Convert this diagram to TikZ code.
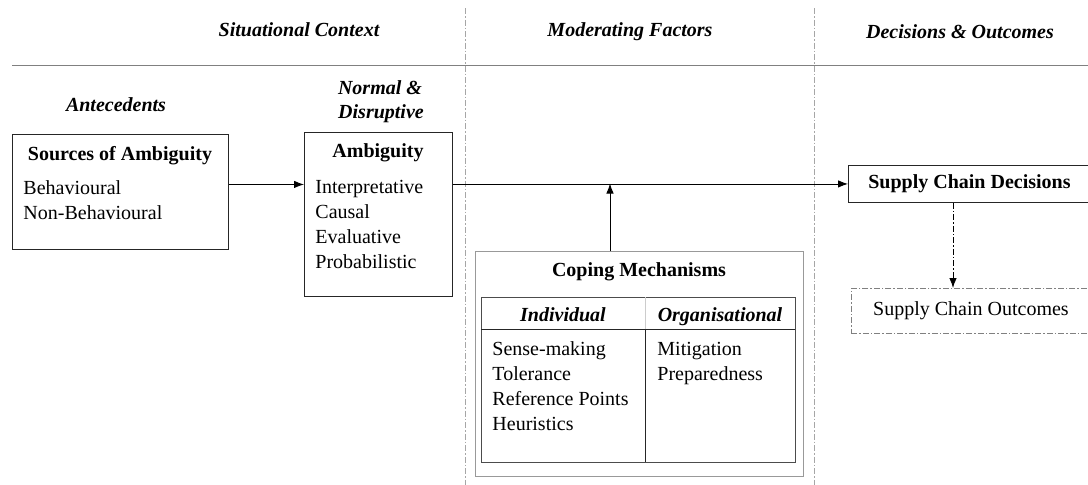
\documentclass[tikz,border=0pt]{standalone}
\usepackage{fontspec}
\setmainfont{Liberation Serif}
\usetikzlibrary{arrows.meta}

\begin{document}
\begin{tikzpicture}[x=1pt, y=-1pt, line width=0.9pt,
  every node/.style={font=\fontsize{20}{24}\selectfont, inner sep=0pt},
  box/.style={draw=black!85, rectangle, anchor=north west},
  head/.style={font=\fontsize{20}{24}\selectfont\bfseries\itshape, anchor=base},
  title/.style={font=\fontsize{20}{24}\selectfont\bfseries, anchor=base},
  item/.style={anchor=base west},
  arr/.style={-{Latex[length=10pt,width=7.5pt]}},
  dashdot/.style={dash pattern=on 6pt off 2pt on 1.5pt off 2pt}]

  \useasboundingbox (0,0) rectangle (1088,485);

  % column headings and separators
  \node[head] (ctx) at (299,36) {Situational Context};
  \node[head] (mod) at (630,36) {Moderating Factors};
  \node[head] (dec) at (960,38) {Decisions \& Outcomes};
  \draw[gray] (12,65) -- (1088,65);
  \draw[gray!70, dashdot, line width=0.6pt] (465,8) -- (465,485);
  \draw[gray!70, dashdot, line width=0.6pt] (814,8) -- (814,485);

  \node[head] (ante) at (116,111) {Antecedents};
  \node[head] (norm) at (380,94) {Normal \&};
  \node[head] (disr) at (381,118) {Disruptive};

  % antecedents
  \node[box, minimum width=216, minimum height=115] (src) at (12,134) {};
  \node[title] (src-t) at (120,160) {Sources of Ambiguity};
  \foreach \t [count=\i from 0] in {Behavioural, Non-Behavioural} {
    \node[item] (src-\i) at (23, 194+25*\i) {\t};
  }

  % ambiguity
  \node[box, minimum width=148, minimum height=164] (amb) at (304,132) {};
  \node[title] (amb-t) at (378,157.5) {Ambiguity};
  \foreach \t [count=\i from 0] in {Interpretative, Causal, Evaluative, Probabilistic} {
    \node[item] (amb-\i) at (315, 193+25*\i) {\t};
  }

  % decisions and outcomes
  \node[box, minimum width=242, minimum height=37, font=\fontsize{20}{24}\selectfont\bfseries] (scd) at (848,165) {Supply Chain Decisions};
  \node[box, draw=gray, dashdot, minimum width=239, minimum height=45] (sco) at (851,288) {Supply Chain Outcomes};

  % coping mechanisms
  \node[box, draw=gray!80, minimum width=328, minimum height=225] (cope) at (475,251) {};
  \node[title] (cope-t) at (639,276.5) {Coping Mechanisms};
  \node[box, draw=black!70, minimum width=314, minimum height=165] (tab) at (481,297) {};
  \draw[black!85] (481,329) -- (795,329);
  \draw[gray!40] (645,297) -- (645,329);
  \draw[black!85] (645,329) -- (645,462);
  \node[head] (ind) at (563,321) {Individual};
  \node[head] (org) at (720,321) {Organisational};
  \foreach \t [count=\i from 0] in {Sense-making, Tolerance, Reference Points, Heuristics} {
    \node[item] (ind-\i) at (492, 355.5+25*\i) {\t};
  }
  \foreach \t [count=\i from 0] in {Mitigation, Preparedness} {
    \node[item] (org-\i) at (657, 355.5+25*\i) {\t};
  }

  % connectors
  \coordinate (join) at (610,183.5);
  \coordinate (drop) at (953,0);
  \draw[arr] ([yshift=7.5pt]src.east) -- ([yshift=7.5pt]src.east -| amb.west);
  \draw[arr] (scd.west -| amb.east) -- (scd.west);
  \draw[arr] (cope.north -| join) -- (join);
  \draw[arr, dashdot] (scd.south -| drop) -- (sco.north -| drop);
\end{tikzpicture}
\end{document}
